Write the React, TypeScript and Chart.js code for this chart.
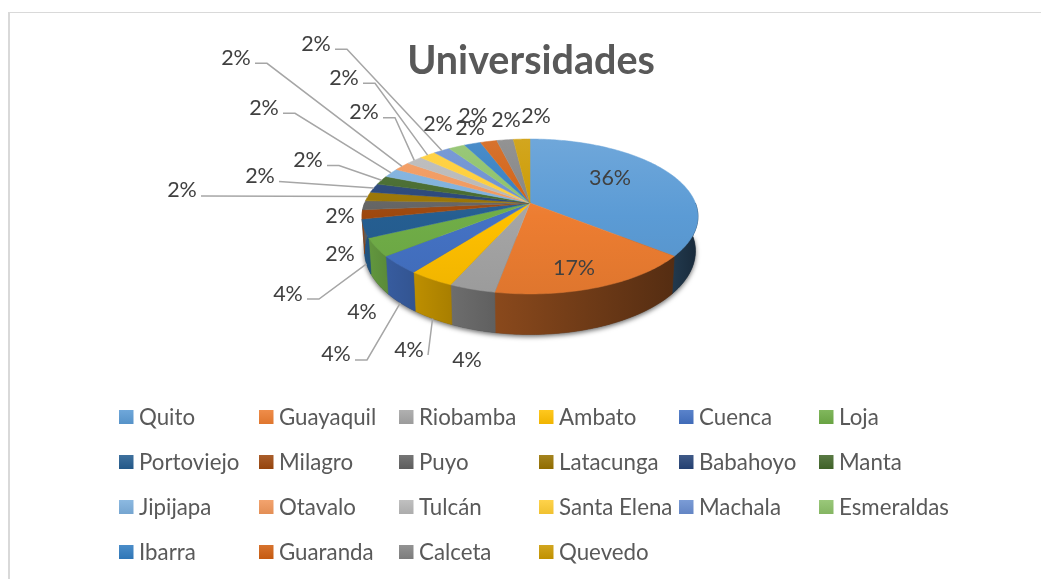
import React, { useEffect, useRef } from "react";
import { Chart, registerables } from "chart.js";

Chart.register(...registerables);

const categories = ["Quito","Guayaquil","Riobamba","Ambato","Cuenca","Loja","Portoviejo","Milagro","Puyo","Latacunga","Babahoyo","Manta","Jipijapa","Otavalo","Tulcán","Santa Elena","Machala","Esmeraldas","Ibarra","Guaranda","Calceta","Quevedo"];
const counts = [19,9,2,2,2,2,2,1,1,1,1,1,1,1,1,1,1,1,1,1,1,1];
const colors = ["#5B9BD5","#ED7D31","#A5A5A5","#FFC000","#4472C4","#70AD47","#255E91","#9E480E","#636363","#997300","#264478","#43682B","#7CAFDD","#F1975A","#B7B7B7","#FFCD33","#698ED0","#8CC168","#327DC2","#D26012","#848484","#CC9A00"];

// Label layout: centre of each percentage text, and where its leader line starts (if any).
const labelCentres: [number, number][] = [[610,178],[574,268],[467,360],[409,350],[336,354],[362,312],[288,294],[340,254],[340,216],[182,190],[260,176],[308,160],[264,108],[236,58],[364,112],[344,78],[316,44],[438,124],[470,128],[473,116],[506,120],[536,116]];
const leaderStarts: ([number, number] | null)[] = [null,null,null,[428,355],[355,360],null,[307,299],null,null,[201,196],[279,181.5],[327,165.5],[283,113.3],[255,63.3],[383,117.7],[363,83.3],[335,49.3],null,null,null,null,null];
const leaderRuns = [0,0,0,0,12,0,12,0,0,0,0,12,12,12,12,12,12,0,0,0,0,0];

// Perspective pie geometry
const APEX_X = 530, APEX_Y = 203, K = 165.4, C = -0.174, A = 39.8, DEPTH = 33.5, BOTTOM_SCALE = 0.985;
const TOP_Y = 139, BOTTOM_Y = 294;

const project = (a: number, extruded = false): [number, number] => {
  const u = Math.cos(a), v = Math.sin(a);
  const w = 1 + C * v;
  const s = extruded ? BOTTOM_SCALE : 1;
  return [APEX_X + (K * u * s) / w, (A * v + APEX_Y) / w + (extruded ? DEPTH / w : 0)];
};

const rgb = (hex: string) => [1, 3, 5].map((i) => parseInt(hex.slice(i, i + 2), 16));
const mix = (hex: string, f: number) => {
  const c = rgb(hex).map((x) => (f >= 0 ? x + (255 - x) * f : x * (1 + f)));
  return `rgb(${c.map((x) => Math.round(x)).join(",")})`;
};
const darken = (hex: string, f: number) => {
  const c = rgb(hex).map((x) => x * f);
  return `rgb(${c.map((x) => Math.round(x)).join(",")})`;
};

// brightness of the side wall by clock angle (degrees from top, clockwise)
const sideLight = (a: number) => {
  const deg = (((a + Math.PI / 2) * 180) / Math.PI + 720) % 360;
  const pts = [[90, 0.28], [130, 0.36], [190, 0.58], [220, 0.76], [250, 0.9], [290, 0.95]];
  if (deg <= pts[0][0]) return pts[0][1];
  for (let i = 1; i < pts.length; i++) {
    if (deg <= pts[i][0]) {
      const t = (deg - pts[i - 1][0]) / (pts[i][0] - pts[i - 1][0]);
      return pts[i - 1][1] + t * (pts[i][1] - pts[i - 1][1]);
    }
  }
  return 0.95;
};

const rimPoints = (a0: number, a1: number, extruded = false) => {
  const n = Math.max(2, Math.ceil(((a1 - a0) * 180) / Math.PI));
  const out: [number, number][] = [];
  for (let i = 0; i <= n; i++) out.push(project(a0 + ((a1 - a0) * i) / n, extruded));
  return out;
};

const pie3d = {
  id: "pie3d",
  beforeDatasetDraw() {
    return false;
  },
  afterDatasetsDraw(chart: any) {
    const ctx: CanvasRenderingContext2D = chart.ctx;
    const arcs = chart.getDatasetMeta(0).data;
    const values: number[] = chart.data.datasets[0].data;
    const total = values.reduce((a, b) => a + b, 0);
    const fills: string[] = chart.data.datasets[0].backgroundColor;

    // soft shadow under the front of the disc
    ctx.save();
    ctx.beginPath();
    ctx.rect(0, 225, 1041, 354);
    ctx.clip();
    ctx.shadowColor = "rgba(0,0,0,0.6)";
    ctx.shadowBlur = 5;
    ctx.shadowOffsetY = 2;
    ctx.fillStyle = "#444";
    ctx.beginPath();
    rimPoints(0, Math.PI, true).forEach(([x, y], i) => (i ? ctx.lineTo(x, y) : ctx.moveTo(x, y)));
    ctx.closePath();
    ctx.fill();
    ctx.restore();

    // side walls (front half only)
    arcs.forEach((arc: any, i: number) => {
      const p = arc.getProps(["startAngle", "endAngle"], true);
      const a0 = Math.max(p.startAngle, 0), a1 = Math.min(p.endAngle, Math.PI);
      if (a1 <= a0) return;
      const top = rimPoints(a0, a1);
      const bot = rimPoints(a0, a1, true);
      const p0 = top[0], p1 = top[top.length - 1];
      const g = ctx.createLinearGradient(p0[0], 0, p1[0] === p0[0] ? p0[0] + 1 : p1[0], 0);
      g.addColorStop(0, darken(fills[i], sideLight(a0)));
      g.addColorStop(1, darken(fills[i], sideLight(a1)));
      ctx.fillStyle = g;
      ctx.strokeStyle = g;
      ctx.lineWidth = 0.6;
      ctx.beginPath();
      top.forEach(([x, y], k) => (k ? ctx.lineTo(x, y) : ctx.moveTo(x, y)));
      bot.reverse().forEach(([x, y]) => ctx.lineTo(x, y));
      ctx.closePath();
      ctx.fill();
      ctx.stroke();
    });

    // top faces
    arcs.forEach((arc: any, i: number) => {
      const { startAngle: a0, endAngle: a1 } = arc.getProps(["startAngle", "endAngle"], true);
      const g = ctx.createLinearGradient(0, TOP_Y, 0, BOTTOM_Y);
      g.addColorStop(0, mix(fills[i], 0.12));
      g.addColorStop(0.5, fills[i]);
      g.addColorStop(1, mix(fills[i], -0.06));
      ctx.fillStyle = g;
      ctx.strokeStyle = g;
      ctx.lineWidth = 0.5;
      ctx.beginPath();
      ctx.moveTo(APEX_X, APEX_Y);
      rimPoints(a0, a1).forEach(([x, y]) => ctx.lineTo(x, y));
      ctx.closePath();
      ctx.fill();
      ctx.stroke();
    });

    // leader lines
    ctx.strokeStyle = "#A6A6A6";
    ctx.lineWidth = 1.5;
    arcs.forEach((arc: any, i: number) => {
      const start = leaderStarts[i];
      if (!start) return;
      const { startAngle: a0, endAngle: a1 } = arc.getProps(["startAngle", "endAngle"], true);
      const mid = (a0 + a1) / 2;
      const deg = (((mid + Math.PI / 2) * 180) / Math.PI + 720) % 360;
      const end = project(mid, deg > 195 && deg < 262);
      ctx.beginPath();
      ctx.moveTo(start[0], start[1]);
      if (leaderRuns[i]) ctx.lineTo(start[0] + leaderRuns[i], start[1]);
      ctx.lineTo(end[0], end[1]);
      ctx.stroke();
    });

    // percentage labels
    ctx.fillStyle = "#404040";
    ctx.font = "21.5px Lato";
    ctx.textAlign = "center";
    ctx.textBaseline = "middle";
    values.forEach((v, i) => {
      ctx.fillText(`${Math.round((v / total) * 100)}%`, labelCentres[i][0], labelCentres[i][1]);
    });

    // legend: six aligned columns
    ctx.font = "22.3px Lato";
    ctx.textAlign = "left";
    (chart.data.labels as string[]).forEach((name, i) => {
      const col = i % 6, row = Math.floor(i / 6);
      const x = 119 + col * 140, y = 410 + row * 45;
      const g = ctx.createLinearGradient(0, y, 0, y + 14);
      g.addColorStop(0, mix(fills[i], 0.12));
      g.addColorStop(1, mix(fills[i], -0.06));
      ctx.fillStyle = g;
      ctx.fillRect(x, y, 14.5, 14);
      ctx.fillStyle = "#595959";
      ctx.fillText(name, x + 20, y + 8);
    });
  },
};

export default function App() {
  const ref = useRef<HTMLCanvasElement>(null);
  useEffect(() => {
    const chart = new Chart(ref.current!, {
      type: "pie",
      data: {
        labels: categories,
        datasets: [{ data: counts, backgroundColor: colors, borderWidth: 0 }],
      },
      options: {
        responsive: false,
        animation: false,
        layout: { padding: { left: 21 } },
        plugins: {
          legend: { display: false },
          tooltip: { enabled: false },
          title: {
            display: true,
            text: "Universidades",
            color: "#595959",
            font: { family: "Lato", size: 39.5, weight: "bold" },
            padding: { top: 38, bottom: 10 },
          },
        },
      },
      plugins: [pie3d],
    } as any);
    return () => chart.destroy();
  }, []);
  return (
    <div style={{ position: "absolute", left: 0, top: 0, width: 1041, height: 579, overflow: "hidden", background: "#fff" }}>
      <div style={{ position: "absolute", left: 8, top: 12, width: 1033, height: 567, borderTop: "1.5px solid #D9D9D9", borderLeft: "2px solid #D9D9D9", boxSizing: "border-box" }} />
      <canvas ref={ref} width={1041} height={579} style={{ position: "absolute", left: 0, top: 0 }} />
    </div>
  );
}
